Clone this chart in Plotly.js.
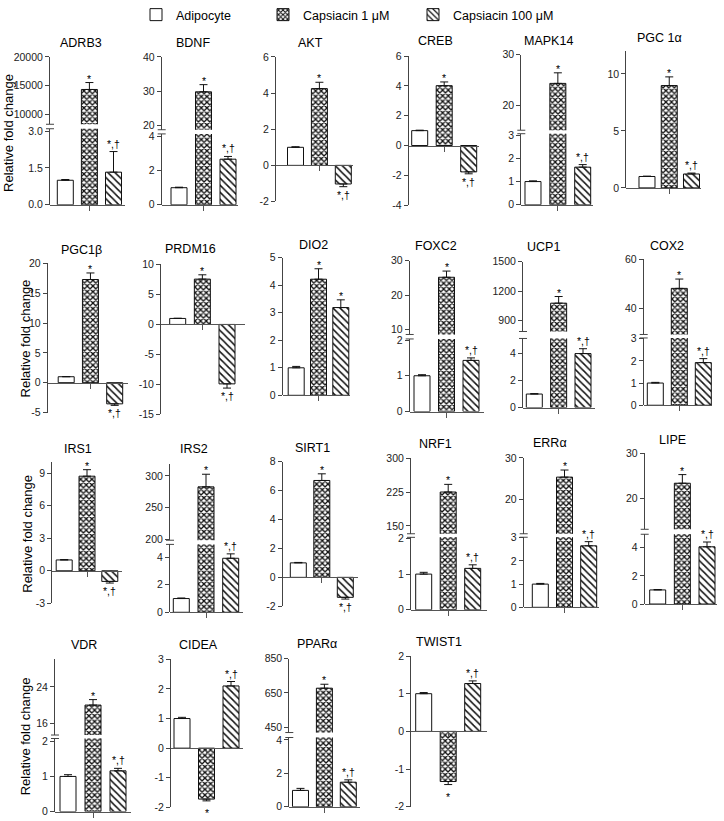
<!DOCTYPE html>
<html><head><meta charset="utf-8">
<script src="https://cdn.plot.ly/plotly-3.0.1.min.js"></script>
<style>html,body{margin:0;padding:0;background:#fff}</style>
</head><body><div id="chart" style="width:724px;height:821px"></div>
<script>
// ---------------- DATA ----------------
const genes = ['ADRB3','BDNF','AKT','CREB','MAPK14','PGC 1α','PGC1β','PRDM16','DIO2','FOXC2','UCP1','COX2',
               'IRS1','IRS2','SIRT1','NRF1','ERRα','LIPE','VDR','CIDEA','PPARα','TWIST1'];
const groups = ['Adipocyte','Capsiacin 1 μM','Capsiacin 100 μM'];
const adipocyte    = [1,1,1,1,1,1, 1,1,1,1,1,1, 1,1,1,1,1,1, 1,1,0.98,1];
const adipocyteErr = [0.03,0.03,0.03,0.03,0.03,0.03, 0.03,0.03,0.05,0.03,0.03,0.03, 0.03,0.04,0.03,0.05,0.03,0.03, 0.05,0.04,0.12,0.03];
const caps1    = [14300,29.8,4.25,4.02,24.3,8.98, 17.3,7.55,4.22,25.2,1076,48.2, 8.72,282.6,6.69,225,25.4,23.4, 20.0,-1.72,678,-1.33];
const caps1Err = [1220,2.1,0.35,0.25,2.1,0.76, 1.1,0.72,0.38,1.8,68,3.8, 0.6,20,0.46,17,1.7,1.9, 1.2,0.06,23,0.08];
const caps100    = [1.33,2.67,-1.03,-1.77,1.62,1.22, -3.55,-9.9,3.19,1.43,4.0,1.92, -0.98,3.93,-1.38,1.16,2.65,4.06, 1.16,2.1,1.47,1.27];
const caps100Err = [0.84,0.16,0.15,0.13,0.11,0.08, 0.25,0.7,0.28,0.07,0.36,0.18, 0.15,0.32,0.12,0.1,0.18,0.34, 0.07,0.15,0.14,0.07];
const sigCaps1   = ['*','*','*','*','*','*', '*','*','*','*','*','*', '*','*','*','*','*','*', '*','*','*','*'];
const sigCaps100 = ['*,†','*,†','*,†','*,†','*,†','*,†', '*,†','*,†','*','*,†','*,†','*,†', '*,†','*,†','*,†','*,†','*,†','*,†', '*,†','*,†','*,†','*,†'];

// ---------------- PANEL GEOMETRY (pixels) ----------------
const panels = [
 {ax:50,   right:125,  c0:65.3, c2:113.5, tx:81,   ty:38,  low:{r:[0,3.1],  p:[201,124.5], t:[0,1.5,3], tt:['0.0','1.5','3.0']}, up:{r:[8200,20000], p:[120,52.3], t:[10000,15000,20000]}},
 {ax:161.7,right:238,  c0:179,  c2:228,   tx:193.3,ty:38,  low:{r:[0,4.15], p:[201,129.7], t:[0,2,4]}, up:{r:[18.7,40], p:[125.5,52.3], t:[20,30,40]}},
 {ax:276,  right:353,  c0:295.5,c2:343.3, tx:310,  ty:38,  low:{r:[-2,6],   p:[197.7,52.3], t:[-2,0,2,4,6]}},
 {ax:408.7,right:479,  c0:419.7,c2:468.7, tx:435.3,ty:36.7,low:{r:[-4,6],   p:[201.3,51.5], t:[-4,-2,0,2,4,6]}},
 {ax:521.3,right:593,  c0:533,  c2:582.7, tx:548,  ty:36,  low:{r:[0,3.06], p:[201,129.5], t:[0,1,2,3]}, up:{r:[15,30], p:[126,50], t:[20,30]}},
 {ax:626.3,right:700.5,c0:647,  c2:691.5, tx:659.8,ty:33.3,low:{r:[0,12],   p:[184,46.4], t:[0,5,10]}},
 {ax:47.7, right:128,  c0:66.2, c2:114.7, tx:81,   ty:246.7,low:{r:[-5,20], p:[410,260], t:[-5,0,5,10,15,20]}},
 {ax:161,  right:245,  c0:177.7,c2:227,   tx:190.5,ty:245.7,low:{r:[-15,10],p:[412,261], t:[-15,-10,-5,0,5,10]}},
 {ax:282.7,right:350,  c0:296.2,c2:340.8, tx:313.8,ty:241, low:{r:[0,5],    p:[392.7,254.3], t:[0,1,2,3,4,5]}},
 {ax:409.7,right:483.7,c0:422,  c2:471,   tx:436.5,ty:242.7,low:{r:[0,2.03],p:[409,336], t:[0,1,2]}, up:{r:[8.6,30], p:[331.5,257.3], t:[10,20,30]}},
 {ax:523,  right:595,  c0:534.3,c2:583,   tx:543.2,ty:243.3,low:{r:[0,5.12],p:[405,335.5], t:[0,2,4]}, up:{r:[786,1500], p:[328.5,258.3], t:[900,1200,1500]}},
 {ax:643.7,right:712,  c0:655.3,c2:703.3, tx:667,  ty:242.7,low:{r:[0,3.03],p:[402.7,335], t:[0,1,2,3]}, up:{r:[29.4,60], p:[331.5,256], t:[40,60]}},
 {ax:52.3, right:121.7,c0:64.2, c2:109.8, tx:77.5, ty:446.7,low:{r:[-3,10], p:[602,460.1], t:[-3,0,3,6,9]}},
 {ax:170,  right:243,  c0:181.3,c2:230.7, tx:193.7,ty:446.7,low:{r:[0,4.94],p:[611,542.7], t:[0,2,4]}, up:{r:[198.1,319], p:[538.5,461.7], t:[200,250,300]}},
 {ax:282.7,right:358,  c0:298.3,c2:345.3, tx:312.2,ty:446, low:{r:[-2,8],   p:[605,459.3], t:[-2,0,2,4,6,8]}},
 {ax:411,  right:487,  c0:423.7,c2:472.7, tx:435.7,ty:441.7,low:{r:[0,2.03],p:[608.5,535.6], t:[0,1,2]}, up:{r:[132.4,300], p:[532,456], t:[150,225,300]}},
 {ax:523.7,right:598.7,c0:540.3,c2:588.7, tx:550.3,ty:441, low:{r:[0,3.02], p:[606,535.5], t:[0,1,2,3]}, up:{r:[11.83,30], p:[532,455.7], t:[20,30]}},
 {ax:644.7,right:717,  c0:657.7,c2:707,   tx:672,  ty:437.3,low:{r:[0,4.95],p:[602.7,532.5], t:[0,2,4]}, up:{r:[13.26,30], p:[527.5,451], t:[20,30]}},
 {ax:55,   right:131,  c0:68,   c2:118,   tx:84.2, ty:644.3,low:{r:[0,2.08],p:[811.5,738], t:[0,1,2]}, up:{r:[13.43,30.04], p:[734.5,658.3], t:[16,24]}},
 {ax:171,  right:243,  c0:182,  c2:231,   tx:198.3,ty:644.3,low:{r:[-2,3],  p:[807.3,658.3], t:[-2,-1,0,1,2,3]}},
 {ax:289.3,right:360,  c0:300.5,c2:348.3, tx:316.7,ty:643.3,low:{r:[0,4.14],p:[806.7,737], t:[0,2,4]}, up:{r:[419.3,850], p:[732,657.7], t:[450,650,850]}},
 {ax:411.3,right:487,  c0:423.7,c2:472.7, tx:438.8,ty:641, low:{r:[-2,2],   p:[806.7,655], t:[-2,-1,0,1,2]}}
];
const yTitleRows = [{x:8.7,y:129},{x:25.8,y:335.7},{x:27.5,y:532.5},{x:25,y:735.8}];

// ---------------- BUILD ----------------
const W = 724, H = 821;
const fy = px => 1 - px / H;
const fx = px => px / W;
const vals = [adipocyte, caps1, caps100];
const errs = [adipocyteErr, caps1Err, caps100Err];
const sigs = [null, sigCaps1, sigCaps100];
const legendIds = ['legend','legend2','legend3'];
const INK = '#000', AXC = '#444';
const tickFont = {family:'"Liberation Sans Narrow","Arial Narrow","Liberation Sans",Arial,sans-serif', size:10.5, color:'#222'};
const textFamily = '"Liberation Sans",Arial,sans-serif';
const patterns = [
  {shape:''},
  {shape:'x', size:4, solidity:0.55, fgcolor:'#111', bgcolor:'#fff', fillmode:'replace'},
  {shape:'\\', size:5, solidity:0.3, fgcolor:'#111', bgcolor:'#fff', fillmode:'replace'}
];

const data = [];
const layout = {
  width:W, height:H, margin:{l:0,r:0,t:0,b:0},
  paper_bgcolor:'#fff', plot_bgcolor:'rgba(0,0,0,0)',
  barmode:'overlay', showlegend:true, hovermode:false,
  annotations:[], shapes:[]
};

function yAxisDef(A, anchor){
  return {domain:[fy(A.p[0]), fy(A.p[1])], range:A.r, anchor:anchor,
    showline:true, linecolor:AXC, linewidth:1, ticks:'outside', ticklen:4, tickwidth:1, tickcolor:AXC,
    tickmode:'array', tickvals:A.t, ticktext:A.tt || A.t.map(String), tickfont:tickFont,
    showgrid:false, zeroline:false, fixedrange:true};
}

let upIdx = panels.length;
panels.forEach((P, i) => {
  const n = i + 1;
  const sfx = n === 1 ? '' : String(n);
  const xa = 'x' + sfx, ya = 'y' + sfx;
  const s = (P.c2 - P.c0) / 2;
  const xr = [(P.ax - P.c0) / s, (P.right - P.c0) / s];
  const bw = 16 / s;
  const L = P.low;
  const zeroPx = L.p[0] + (0 - L.r[0]) / (L.r[1] - L.r[0]) * (L.p[1] - L.p[0]);
  layout['xaxis' + sfx] = {domain:[fx(P.ax), fx(P.right)], range:xr, anchor:'free', position:fy(zeroPx),
    showline:true, linecolor:'#555', linewidth:1, ticks:'outside', ticklen:5, tickwidth:1, tickcolor:'#555',
    tickmode:'array', tickvals:[1], ticktext:[''], showgrid:false, zeroline:false, fixedrange:true};
  layout['yaxis' + sfx] = yAxisDef(L, xa);

  let yaUp = null;
  if (P.up) {
    upIdx += 1;
    yaUp = 'y' + upIdx;
    layout['yaxis' + upIdx] = yAxisDef(P.up, xa);
    [P.up.p[0], L.p[1]].forEach(py => layout.shapes.push({type:'line', xref:'paper', yref:'paper',
      x0:fx(P.ax - 4), x1:fx(P.ax + 4), y0:fy(py), y1:fy(py), line:{color:AXC, width:1}}));
  }

  const axesList = yaUp ? [ya, yaUp] : [ya];
  axesList.forEach((yy, k) => {
    for (let g = 0; g < 3; g++) {
      const v = vals[g][i], e = errs[g][i];
      data.push({type:'bar', x:[g], y:[v], width:[bw], xaxis:xa, yaxis:yy,
        name:groups[g], legend:legendIds[g], showlegend:(i === 0 && k === 0),
        marker:{color:'#fff', line:{color:'#111', width:1}, pattern:patterns[g]},
        error_y:{type:'data', symmetric:false, array:[v >= 0 ? e : 0], arrayminus:[v >= 0 ? 0 : e],
                 color:'#111', thickness:1, width:4},
        hoverinfo:'skip'});
    }
  });

  for (let g = 1; g < 3; g++) {
    const v = vals[g][i], e = errs[g][i], txt = sigs[g][i];
    let yref = ya;
    if (yaUp && v > L.r[1]) yref = yaUp;
    const pos = v >= 0;
    const star = txt === '*';
    layout.annotations.push({xref:xa, yref:yref, x:g, y: pos ? v + e : v - e,
      text:txt, showarrow:false, yanchor: pos ? 'bottom' : 'top',
      yshift: star ? -4 : 0,
      font:{family:'Arial,"Liberation Sans",sans-serif', size:10.5, color:INK}});
  }

  layout.annotations.push({xref:'paper', yref:'paper', x:fx(P.tx), y:fy(P.ty), xanchor:'center', yanchor:'middle',
    text:genes[i], showarrow:false, font:{family:textFamily, size:12.5, color:INK}});
});

yTitleRows.forEach(r => layout.annotations.push({xref:'paper', yref:'paper', x:fx(r.x), y:fy(r.y),
  xanchor:'center', yanchor:'middle', textangle:-90, text:'Relative fold change', showarrow:false,
  font:{family:textFamily, size:13, color:INK}}));

const legX = [136, 263, 413];
legendIds.forEach((id, g) => {
  layout[id] = {x:fx(legX[g]), xanchor:'left', y:fy(10), yanchor:'middle', orientation:'h',
    bgcolor:'rgba(0,0,0,0)', borderwidth:0, font:{family:textFamily, size:12.5, color:INK}};
});

Plotly.newPlot('chart', data, layout, {staticPlot:true, displayModeBar:false});
</script>
</body></html>
